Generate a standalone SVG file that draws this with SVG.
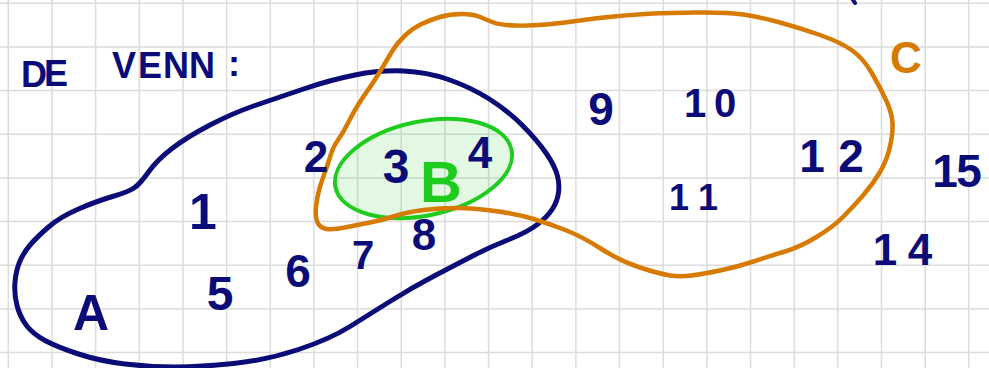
<svg xmlns="http://www.w3.org/2000/svg" width="989" height="368" viewBox="0 0 989 368">
<style>
.grid{stroke:#dcdcdc;stroke-width:1.5;fill:none}
.set{fill:none;stroke-linecap:round;stroke-linejoin:round}
.t{font-family:"Liberation Sans",Arial,sans-serif;font-weight:bold;fill:#0c0c78;text-anchor:middle}
</style>
<rect width="989" height="368" fill="#ffffff"/>
<path class="grid" d="M8.3,0V368M52,0V368M95.6,0V368M139.3,0V368M183,0V368M226.6,0V368M270.3,0V368M313.9,0V368M357.6,0V368M401.2,0V368M444.9,0V368M488.6,0V368M532.2,0V368M575.9,0V368M619.5,0V368M663.2,0V368M706.9,0V368M750.5,0V368M794.2,0V368M837.8,0V368M881.5,0V368M925.2,0V368M968.8,0V368M0,3.3H989M0,47H989M0,90.6H989M0,134.3H989M0,177.9H989M0,221.6H989M0,265.3H989M0,308.9H989M0,352.6H989"/>
<g id="setA">
<path class="set" stroke="#0c0c78" stroke-width="5" d="M303.5,89 Q330,80 355,75 Q380,70 403.5,71 Q427,72 448.5,79.5 Q470,87 488.5,98.5 Q507,110 522,125 Q537,140 546,153 Q555,166 557.5,176 Q560,186 558,195.5 Q556,205 549.5,213 Q543,221 533,227.5 Q523,234 506.5,240.5 Q490,247 473.5,255.5 Q457,264 435,275.5 Q413,287 391.5,300.5 Q370,314 350,326.5 Q330,339 298.5,349.5 Q267,360 233.5,363.5 Q200,367 175,367 Q150,367 125,364 Q100,361 78.5,354 Q57,347 45,340.5 Q33,334 26.5,325.5 Q20,317 17,305.5 Q14,294 15,282 Q16,270 20,261 Q24,252 30.5,244.5 Q37,237 48.5,227 Q60,217 78.5,209 Q97,201 112.5,196.5 Q128,192 134,188 Q140,184 148.5,172 Q157,160 172,148.5 Q187,137 210,125 Q233,113 255,105.5 Q277,98 303.5,89 Z"/>
<text class="t" x="91" y="330" font-size="50">A</text>
</g>
<g id="setB">
<ellipse cx="423.5" cy="168.5" rx="90" ry="47" transform="rotate(-12 423.5 168.5)" fill="#22cc22" fill-opacity="0.12" stroke="#1ecc1e" stroke-width="4"/>
<text class="t" x="441" y="202" font-size="58" style="fill:#1ecc1e">B</text>
</g>
<g id="setC">
<path class="set" stroke="#d67a00" stroke-width="4.5" d="M348,123 Q353,113 358,105 Q363,97 368,90 Q373,83 380,71.5 Q387,60 392,51.5 Q397,43 405,35.5 Q413,28 421.5,24 Q430,20 440,17 Q450,14 461.5,14 Q473,14 480,17 Q487,20 493.5,22.5 Q500,25 515,25.5 Q530,26 546.5,24.5 Q563,23 580,20.5 Q597,18 613.5,16.5 Q630,15 645,14 Q660,13 693.5,12.5 Q727,12 743.5,14.5 Q760,17 780,22.5 Q800,28 820,35 Q840,42 851.5,50 Q863,58 871.5,72.5 Q880,87 886,100 Q892,113 892.5,123 Q893,133 890,146.5 Q887,160 880,172 Q873,184 863,195.5 Q853,207 843,217 Q833,227 816.5,237 Q800,247 785,251.5 Q770,256 753.5,261.5 Q737,267 720,270.5 Q703,274 691.5,275.5 Q680,277 670,275.5 Q660,274 640,267.5 Q620,261 601.5,249 Q583,237 566.5,230.5 Q550,224 533.5,219 Q517,214 495,211 Q473,208 456.5,208 Q440,208 423.5,210 Q407,212 395,216 Q383,220 370,222.5 Q357,225 345,227.5 Q333,230 326.5,229 Q320,228 317.5,222.5 Q315,217 316,207 Q317,197 319.5,188.5 Q322,180 324.5,173.5 Q327,167 330,157 Q333,147 338,140 Q343,133 348,123 Z"/>
<text class="t" x="906" y="73" font-size="44" style="fill:#d67a00">C</text>
</g>
<g id="labels">
<text class="t" font-size="36" x="34 56 124 150 176 202 234" y="87 86 78 78 78 78 76">DEVENN:</text>
<text class="t" font-size="44" x="316" y="172">2</text>
<text class="t" font-size="48" x="396" y="183">3</text>
<text class="t" font-size="44" x="480" y="168">4</text>
<text class="t" font-size="50" x="203" y="229">1</text>
<text class="t" font-size="44" x="424" y="250">8</text>
<text class="t" font-size="40" x="363" y="269">7</text>
<text class="t" font-size="46" x="298" y="287">6</text>
<text class="t" font-size="48" x="220" y="310">5</text>
<text class="t" font-size="46" x="601" y="125">9</text>
<text class="t" font-size="40" x="695 725" y="117">10</text>
<text class="t" font-size="36" x="679 708" y="210">11</text>
<text class="t" font-size="46" x="812 851" y="172">12</text>
<text class="t" font-size="46" x="945 969" y="187">15</text>
<text class="t" font-size="44" x="885 920" y="265">14</text>
</g>
<path d="M853,0 L855,3" stroke="#0c0c78" stroke-width="4" stroke-linecap="round"/>
</svg>
